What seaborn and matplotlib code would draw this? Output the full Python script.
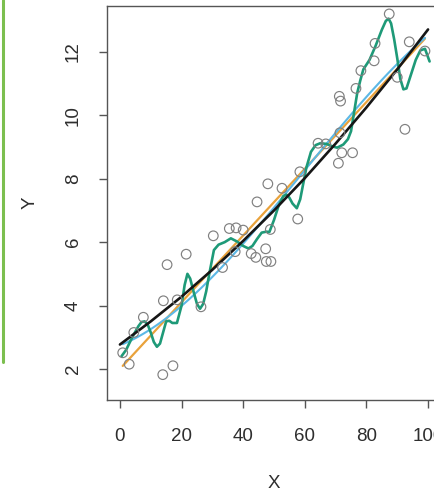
import numpy as np
import pandas as pd
import matplotlib
matplotlib.use("Agg")
import matplotlib.pyplot as plt
from matplotlib.lines import Line2D
import seaborn as sns

# ---- data ----
pts_x = [0.9, 3.0, 4.5, 7.6, 13.9, 17.2, 14.1, 15.3, 21.5, 18.6, 26.3, 30.3,
         33.3, 35.5, 37.7, 40.0, 44.5, 48.0, 52.6, 57.7, 42.6, 44.1, 47.3, 47.5,
         49.0, 48.8, 37.4, 58.4, 64.3, 66.8, 70.9, 72.0, 75.5, 71.4, 71.2, 71.6,
         76.6, 78.2, 82.5, 82.8, 87.4, 90.0, 92.5, 93.9, 99.0]
pts_y = [2.51, 2.15, 3.15, 3.63, 1.82, 2.10, 4.15, 5.29, 5.62, 4.18, 3.96, 6.20,
         5.20, 6.43, 6.45, 6.38, 7.27, 7.84, 7.70, 6.73, 5.64, 5.52, 5.79, 5.39,
         5.39, 6.40, 5.70, 8.22, 9.12, 9.10, 8.49, 8.82, 8.82, 9.45, 10.60, 10.45,
         10.85, 11.41, 11.72, 12.27, 13.20, 11.20, 9.56, 12.32, 12.03]

# true function (black curve)
f_x = [0, 10, 20, 30, 40, 50, 60, 70, 80, 90, 100]
f_y = [2.77, 3.50, 4.28, 5.13, 6.04, 7.00, 8.02, 9.11, 10.25, 11.45, 12.71]

# very flexible fit (green curve)
g_x = [0.5, 2, 4, 6, 7, 8, 9, 10, 11, 12, 13, 14, 15, 16, 17, 18.5, 20, 21,
       21.9, 22.8, 24, 25, 26, 27, 28, 29, 30.5, 32, 34, 36, 38, 40, 41.7, 43,
       44.5, 46, 47.5, 48.5, 50, 51.5, 53, 54, 55, 56, 57.4, 58.5, 59.5, 60.5,
       62, 63.5, 65, 67, 69, 70.5, 72.5, 74, 75, 76, 77, 78, 79, 81, 83, 85,
       86.3, 87.2, 88, 89, 90, 91, 92, 93, 94.5, 96, 97.5, 99, 100.5]
g_y = [2.40, 2.60, 3.00, 3.35, 3.48, 3.50, 3.40, 3.15, 2.85, 2.70, 2.80, 3.15,
       3.50, 3.52, 3.45, 3.45, 4.00, 4.65, 5.00, 4.85, 4.40, 4.05, 3.90, 4.05,
       4.45, 5.00, 5.75, 5.92, 6.00, 6.12, 6.02, 5.88, 5.80, 5.88, 6.10, 6.30,
       6.33, 6.32, 6.70, 7.15, 7.45, 7.50, 7.40, 7.22, 7.07, 7.35, 7.85, 8.35,
       8.85, 9.06, 9.12, 9.10, 9.02, 8.98, 9.08, 9.25, 9.50, 10.10, 10.70,
       11.10, 11.45, 11.75, 12.20, 12.70, 12.98, 13.05, 12.90, 12.40, 11.80,
       11.15, 10.82, 10.85, 11.30, 11.75, 12.05, 12.10, 11.70]

x_ticks = [0, 20, 40, 60, 80, 100]
y_ticks = [2, 4, 6, 8, 10, 12]

pts = pd.DataFrame({"X": pts_x, "Y": pts_y})
truef = pd.DataFrame({"X": f_x, "Y": f_y})
green = pd.DataFrame({"X": g_x, "Y": g_y})

sns.set_theme(style="white")
plt.rcParams["font.family"] = ["Liberation Sans", "DejaVu Sans"]

W, H = 434, 492
fig = plt.figure(figsize=(W / 100, H / 100), dpi=100)
fig.patch.set_facecolor("white")
ax = fig.add_axes([107 / W, 1 - 400 / H, (441 - 107) / W, (400 - 6) / H])

sns.regplot(data=pts, x="X", y="Y", scatter=False, ci=None, ax=ax,
            line_kws=dict(color="#e9a23b", lw=1.6, zorder=2))
sns.regplot(data=pts, x="X", y="Y", scatter=False, ci=None, order=3, ax=ax,
            line_kws=dict(color="#5cb8e6", lw=1.5, zorder=2.5))
sns.lineplot(data=green, x="X", y="Y", sort=False, estimator=None, ax=ax,
             color="#1e9a78", lw=1.9, zorder=3)
sns.lineplot(data=truef, x="X", y="Y", sort=False, estimator=None, ax=ax,
             color="#161616", lw=1.9, zorder=4)
sns.scatterplot(data=pts, x="X", y="Y", ax=ax, marker="o", s=48,
                facecolor="none", edgecolor="#808080", linewidth=0.85, zorder=5)

ax.set_xlim(-4.2, 104.2)
ax.set_ylim(1.02, 13.45)
ax.set_xticks(x_ticks)
ax.set_xticklabels([str(v) for v in x_ticks])
ax.set_yticks(y_ticks)
ax.set_yticklabels([str(v) for v in y_ticks], rotation=90, va="center")

for s in ax.spines.values():
    s.set_color("#555555")
    s.set_linewidth(1.0)
    s.set_visible(True)

ax.tick_params(axis="both", direction="out", length=6, width=1.0,
               color="#555555", labelsize=13.5, labelcolor="#2e2e2e",
               bottom=True, left=True)
ax.tick_params(axis="x", pad=14)
ax.tick_params(axis="y", pad=12)
ax.set_xlabel("X", fontsize=13.5, color="#2e2e2e", labelpad=22)
ax.set_ylabel("Y", fontsize=13.5, color="#2e2e2e", labelpad=19)

# green frame edge visible at the left of the reference
fig.add_artist(Line2D([2.5 / W, 2.5 / W], [1, 1 - 362 / H],
                      transform=fig.transFigure, color="#7cbf4f", lw=2.2))

fig.savefig("out.png", dpi=100, facecolor="white")
